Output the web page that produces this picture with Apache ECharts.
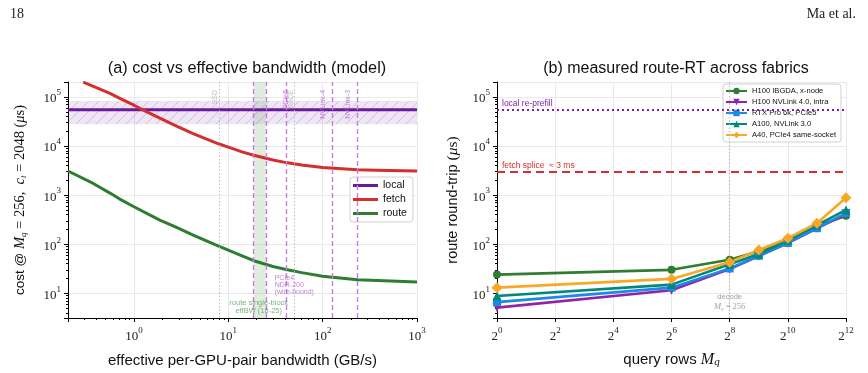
<!DOCTYPE html>
<html><head><meta charset="utf-8">
<script src="https://cdn.jsdelivr.net/npm/echarts@6/dist/echarts.min.js"></script>
<style>html,body{margin:0;padding:0;background:#fff}#c{width:868px;height:373px}</style>
</head><body><div id="c"></div>
<script>
// ---------------- data: panel (a) model ----------------
const bwRange = [0.2, 1000];
const localCost = 5.5e4;
const localBand = [2.77e4, 8.3e4];
const fetchBW   = [0.29, 0.557, 0.7, 1, 1.21, 1.88, 2.83, 4.24, 5.9, 8, 10, 14, 18.6, 29.8, 41, 60, 100, 233, 371, 1000];
const fetchCost = [2.0e5, 1.18e5, 9.5e4, 6.8e4, 5.6e4, 3.7e4, 2.55e4, 1.8e4, 1.39e4, 1.1e4, 9.5e3, 7.6e3, 6.5e3, 5.2e3, 4.6e3, 4.1e3, 3.65e3, 3.3e3, 3.2e3, 3.1e3];
const routeBW   = [0.2, 0.37, 0.557, 0.7, 1, 1.88, 2.83, 4.24, 8, 10, 14, 18.6, 29.8, 41, 60, 100, 233, 1000];
const routeCost = [3.1e3, 1.73e3, 1.1e3, 840, 580, 310, 220, 153, 90, 76, 58, 46, 35, 30.5, 26.3, 22.3, 18.9, 17];
const routeEffBW = [18.6, 25];
const fabricBW = [18.6, 25, 41, 125, 233];
const refBW = [8, 50.6];
const fabricTags = ['PCIe5', 'NVLink-4', 'NVLink-3'];
const fabricTagBW = [40.6, 100, 188];
const refTags = ['SSD', 'RoCE'];
const refTagBW = [7.2, 45.8];

// ---------------- data: panel (b) measured ----------------
const queryRows = [1, 64, 256, 512, 1024, 2048, 4096];
const fabricNames = ['H100 IBGDA, x-node', 'H100 NVLink 4.0, intra', 'RTX Pro 6k, PCIe5', 'A100, NVLink 3.0', 'A40, PCIe4 same-socket'];
const rtH100IB  = [24, 30, 48, 72, 126, 232, 380];
const rtH100NVL = [5.1, 11.5, 31, 57, 105, 210, 410];
const rtRTXPro  = [6.6, 13, 32, 58, 106, 212, 430];
const rtA100    = [8.8, 15, 39, 63, 120, 245, 500];
const rtA40     = [13, 19.6, 43, 76, 132, 268, 880];
const localRefill = 5.5e4;
const fetchSplice = 3000;
const decodeRows = 256;

// ---------------- styling ----------------
const SANS = 'Liberation Sans';
const SERIF = 'Liberation Serif';
const C = {local:'#6a1b9a', fetch:'#d32f2f', route:'#2e7d32', fab:'#c77ddb', fabTxt:'#b35fd0', ref:'#bdbdbd',
  g:'#2e7d32', p:'#8e24aa', b:'#1e88e5', t:'#00897b', o:'#f9a825'};
const pairs = (xs, ys) => xs.map((x, i) => [x, ys[i]]);

function hatch(){
  const s = 10, c = document.createElement('canvas'); c.width = c.height = s;
  const g = c.getContext('2d');
  g.fillStyle = 'rgba(106,27,154,0.11)'; g.fillRect(0,0,s,s);
  g.strokeStyle = 'rgba(106,27,154,0.2)'; g.lineWidth = 1;
  g.beginPath(); g.moveTo(0,s); g.lineTo(s,0); g.moveTo(-2,2); g.lineTo(2,-2); g.moveTo(s-2,s+2); g.lineTo(s+2,s-2); g.stroke();
  return c;
}

const tickRich = {
  b:{fontFamily:SERIF, fontSize:13, color:'#222', lineHeight:17, verticalAlign:'bottom'},
  s:{fontFamily:SERIF, fontSize:9, color:'#222', lineHeight:10, verticalAlign:'top'}
};
const mathRich = (fs, col) => ({
  n:{fontFamily:SANS, fontSize:fs, color:col, lineHeight:fs+2, verticalAlign:'middle'},
  m:{fontFamily:SERIF, fontSize:fs+1, color:col, lineHeight:fs+2, verticalAlign:'middle'},
  i:{fontFamily:SERIF, fontStyle:'italic', fontSize:fs+1, color:col, lineHeight:fs+2, verticalAlign:'middle'},
  sb:{fontFamily:SERIF, fontStyle:'italic', fontSize:Math.round(fs*0.7), color:col, lineHeight:Math.round(fs*0.7), verticalAlign:'bottom'}
});
const powFmt = base => v => {
  const e = Math.log(v) / Math.log(base), r = Math.round(e);
  return Math.abs(e - r) < 1e-6 ? '{b|' + base + '}{s|' + r + '}' : '';
};
const axisCommon = {
  axisLine:{show:true, onZero:false, lineStyle:{color:'#000', width:1}},
  axisTick:{show:true, inside:false, length:4, lineStyle:{color:'#000'}},
  splitLine:{show:true, lineStyle:{color:'#e9e9e9', width:1}},
};
const logY = (grid, name, gap, fs) => Object.assign({}, axisCommon, {
  type:'log', logBase:10, gridIndex:grid, min:3.13, max:2.02e5,
  minorTick:{show:true, splitNumber:9, length:2, lineStyle:{color:'#000'}},
  axisLabel:{formatter:powFmt(10), rich:tickRich, margin:7},
  name:name, nameLocation:'middle', nameGap:gap, nameRotate:90,
  nameTextStyle:{rich:mathRich(fs,'#111')}
});

const vTag = (bw, text, color) => ({value:[bw, 1.39e5], label:{formatter:text, color:color}});
const mk = (data, name, color, symbol, size) => ({
  type:'line', name:name, xAxisIndex:1, yAxisIndex:1, data:pairs(queryRows, data),
  symbol:symbol, symbolSize:size, color:color,
  lineStyle:{width:2.6, color:color}, itemStyle:{color:color}, z:5
});

const option = {
  animation:false,
  title:[
    {text:'18', left:5, top:2, textStyle:{fontFamily:SERIF, fontSize:14, fontWeight:'normal', color:'#222'}},
    {text:'Ma et al.', right:7, top:2, textStyle:{fontFamily:SERIF, fontSize:14, fontWeight:'normal', color:'#222'}},
    {text:'(a) cost vs effective bandwidth (model)', left:242, top:56, textAlign:'center', textStyle:{fontFamily:SANS, fontSize:16.3, fontWeight:'normal', color:'#111'}},
    {text:'(b) measured route-RT across fabrics', left:671, top:56, textAlign:'center', textStyle:{fontFamily:SANS, fontSize:16, fontWeight:'normal', color:'#111'}}
  ],
  grid:[
    {left:68, right:451, top:82, bottom:55},
    {left:497, right:22, top:82, bottom:55}
  ],
  xAxis:[
    Object.assign({}, axisCommon, {
      type:'log', logBase:10, gridIndex:0, min:bwRange[0], max:bwRange[1],
      minorTick:{show:true, splitNumber:9, length:2, lineStyle:{color:'#000'}},
      axisLabel:{formatter:powFmt(10), rich:tickRich, margin:8},
      name:'effective per-GPU-pair bandwidth (GB/s)', nameLocation:'middle', nameGap:35,
      nameTextStyle:{fontFamily:SANS, fontSize:15, color:'#111'}
    }),
    Object.assign({}, axisCommon, {
      type:'log', logBase:2, gridIndex:1, min:1, max:4096, interval:2,
      axisLabel:{formatter:powFmt(2), rich:tickRich, margin:8},
      name:'{n|query rows }{i|M}{sb|q}', nameLocation:'middle', nameGap:33,
      nameTextStyle:{rich:mathRich(15,'#111')}
    })
  ],
  yAxis:[
    logY(0, '{n|cost @ }{i|M}{sb|q}{m| = 256,  }{i|c}{sb|t}{m| = 2048 (}{i|μ}{m|s)}', 40, 13.5),
    logY(1, '{n|route round-trip }{m|(}{i|μ}{m|s)}', 36, 14.5)
  ],
  legend:[
    {data:['local','fetch','route'], orient:'vertical', left:350, top:177, icon:'rect', itemWidth:25, itemHeight:3, itemGap:3,
     padding:[3,6,3,3], borderColor:'#d0d0d0', borderWidth:1, borderRadius:3, backgroundColor:'rgba(255,255,255,0.9)',
     textStyle:{fontFamily:SANS, fontSize:10.5, color:'#111'}},
    {data:fabricNames, orient:'vertical', left:723, top:84, itemWidth:21, itemHeight:8, itemGap:3,
     padding:[3,5,3,2], borderColor:'#d0d0d0', borderWidth:1, borderRadius:3, backgroundColor:'rgba(255,255,255,0.9)',
     textStyle:{fontFamily:SANS, fontSize:7.6, color:'#111'}}
  ],
  series:[
    // panel (a) background bands and reference lines
    {type:'line', xAxisIndex:0, yAxisIndex:0, data:[], z:1,
     markArea:{silent:true, data:[[{yAxis:localBand[0]}, {yAxis:localBand[1]}]], itemStyle:{color:{image:hatch(), repeat:'repeat'}}},
     markLine:{silent:true, symbol:'none', label:{show:false},
       data:fabricBW.map(v => ({xAxis:v, lineStyle:{color:C.fab, type:[5,3], width:1.4}}))
         .concat(refBW.map(v => ({xAxis:v, lineStyle:{color:C.ref, type:[1.5,2], width:1}})))}},
    {type:'line', xAxisIndex:0, yAxisIndex:0, data:[], z:1,
     markArea:{silent:true, data:[[{xAxis:routeEffBW[0]}, {xAxis:routeEffBW[1]}]], itemStyle:{color:'rgba(46,125,50,0.15)'}}},
    // panel (a) curves
    {type:'line', name:'local', xAxisIndex:0, yAxisIndex:0, data:pairs(bwRange, [localCost, localCost]), symbol:'none',
     color:C.local, lineStyle:{width:3, color:C.local}, z:4},
    {type:'line', name:'fetch', xAxisIndex:0, yAxisIndex:0, data:pairs(fetchBW, fetchCost), symbol:'none',
     color:C.fetch, lineStyle:{width:3, color:C.fetch, join:'round'}, z:4},
    {type:'line', name:'route', xAxisIndex:0, yAxisIndex:0, data:pairs(routeBW, routeCost), symbol:'none',
     color:C.route, lineStyle:{width:3, color:C.route, join:'round'}, z:4},
    // panel (a) vertical tags
    {type:'scatter', xAxisIndex:0, yAxisIndex:0, symbolSize:0, z:6, silent:true,
     label:{show:true, position:'inside', rotate:90, align:'right', verticalAlign:'middle', fontFamily:SANS, fontSize:7},
     data:fabricTags.map((t, i) => vTag(fabricTagBW[i], t, C.fabTxt)).concat(refTags.map((t, i) => vTag(refTagBW[i], t, '#b0b0b0')))},
    // panel (a) annotations
    {type:'scatter', xAxisIndex:0, yAxisIndex:0, symbolSize:0, z:6, silent:true,
     data:[
       {value:[31, 24], label:{show:true, position:'inside', align:'left', verticalAlign:'top', formatter:'PCIe4\nNDR-200\n(wire-bound)',
         fontFamily:SANS, fontSize:7, lineHeight:6.8, color:C.fabTxt}},
       {value:[21.0, 7.7], label:{show:true, position:'inside', align:'center', verticalAlign:'top', formatter:'route single-block\neffBW (18-25)',
         fontFamily:SANS, fontSize:7.5, lineHeight:7.8, color:'#5a9e5a'}}
     ]},
    // panel (b) measured
    Object.assign(mk(rtH100IB, fabricNames[0], C.g, 'circle', 8), {
      markLine:{silent:true, symbol:'none',
        data:[
          {yAxis:localRefill, lineStyle:{color:'#7b1fa2', type:[2,3], width:2},
           label:{show:true, position:'insideStartTop', formatter:'local re-prefill', color:'#7b1fa2', fontFamily:SANS, fontSize:8.5, distance:[5,2]}},
          {yAxis:fetchSplice, lineStyle:{color:C.fetch, type:[8,5], width:2},
           label:{show:true, position:'insideStartTop', formatter:'fetch splice  ≈ 3 ms', color:C.fetch, fontFamily:SANS, fontSize:8.5, distance:[5,2]}},
          {xAxis:decodeRows, lineStyle:{color:'#bdbdbd', type:[1.5,2], width:1.2}, label:{show:false}}
        ]}}),
    mk(rtH100NVL, fabricNames[1], C.p, 'path://M0,0 L10,0 L5,9 Z', 9),
    mk(rtRTXPro, fabricNames[2], C.b, 'rect', 8),
    mk(rtA100, fabricNames[3], C.t, 'triangle', 9),
    mk(rtA40, fabricNames[4], C.o, 'diamond', 11),
    {type:'scatter', xAxisIndex:1, yAxisIndex:1, symbolSize:0, z:6, silent:true,
     data:[{value:[decodeRows, 10.4], label:{show:true, position:'inside', align:'center', verticalAlign:'top',
       formatter:'{n|decode}\n{i|M}{sb|q}{m| = 256}', rich:mathRich(7.5,'#8a8a8a')}}]}
  ]
};
const chart = echarts.init(document.getElementById('c'), null, {renderer:'canvas'});
chart.setOption(option);
</script></body></html>
